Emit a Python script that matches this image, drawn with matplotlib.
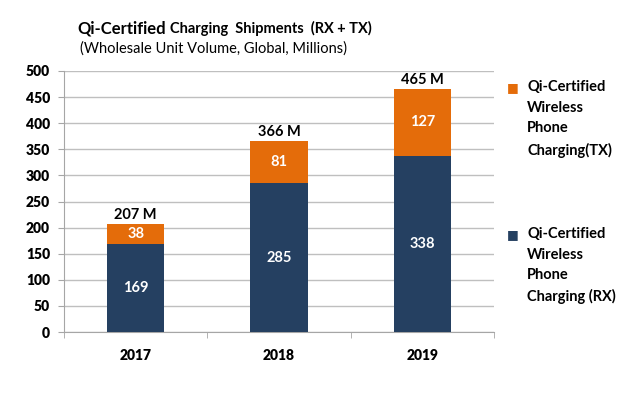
import numpy as np
import matplotlib.pyplot as plt

plt.rcParams['font.family'] = ['Lato', 'DejaVu Sans']

# Datos
years = ['2017', '2018', '2019']
rx = [169, 285, 338]
tx = [38, 81, 127]
totals = [207, 366, 465]

navy = '#254061'
orange = '#E46C0A'

fig = plt.figure(figsize=(6.23, 3.97), dpi=100)
ax = fig.add_axes([64/623, 1-332/397, 430/623, 261/397])

x = np.arange(len(years))
b1 = ax.bar(x, rx, width=0.4, color=navy, zorder=3)
b2 = ax.bar(x, tx, width=0.4, bottom=rx, color=orange, zorder=3)

for i in range(len(years)):
    ax.text(x[i], rx[i]/2, str(rx[i]), ha='center', va='center',
            color='white', fontsize=10.5, fontweight='bold', zorder=4)
    ax.text(x[i], rx[i] + tx[i]/2, str(tx[i]), ha='center', va='center',
            color='white', fontsize=10.5, fontweight='bold', zorder=4)
    ax.text(x[i], totals[i] + 4, f'{totals[i]} M', ha='center', va='bottom',
            color='black', fontsize=10.5, fontweight='bold', zorder=4)

ax.set_xlim(-0.5, 2.5)
ax.set_ylim(0, 500)
ax.set_yticks(np.arange(0, 501, 50))
ax.set_xticks(x)
ax.set_xticklabels(years)
ax.set_xticks([-0.5, 0.5, 1.5, 2.5], minor=True)
ax.tick_params(axis='x', which='major', length=0, pad=12)
ax.tick_params(axis='x', which='minor', length=4, color='#A6A6A6')
ax.tick_params(axis='y', length=4, color='#A6A6A6', pad=6)
for lab in ax.get_xticklabels() + ax.get_yticklabels():
    lab.set_fontweight('heavy')
    lab.set_fontsize(10)

ax.grid(axis='y', color='#BFBFBF', linewidth=1, zorder=0)
for s in ['top', 'right']:
    ax.spines[s].set_visible(False)
ax.spines['left'].set_color('#A6A6A6')
ax.spines['bottom'].set_color('#A6A6A6')

# Leyenda
fig.text(513/623, 1-87/397, '■', color=orange, fontsize=9, va='center', ha='center')
fig.text(527/623, 1-80/397, 'Qi-Certified\nWireless\nPhone\nCharging(TX)',
         fontsize=10.5, fontweight='bold', va='top', ha='left', linespacing=1.6)
fig.text(513/623, 1-234/397, '■', color=navy, fontsize=9, va='center', ha='center')
fig.text(527/623, 1-227/397, 'Qi-Certified\nWireless\nPhone\nCharging (RX)',
         fontsize=10.5, fontweight='bold', va='top', ha='left', linespacing=1.6)

# Titulo
fig.text(77/623, 1-33/397, 'Qi-Certified', fontsize=12, fontweight='bold', va='baseline')
fig.text(170/623, 1-33/397, 'Charging  Shipments  (RX + TX)', fontsize=10.5,
         fontweight='bold', va='baseline')
fig.text(214/623, 1-53/397, '(Wholesale Unit Volume, Global, Millions)',
         fontsize=10.5, va='baseline', ha='center')

plt.savefig('out.png', dpi=100)
